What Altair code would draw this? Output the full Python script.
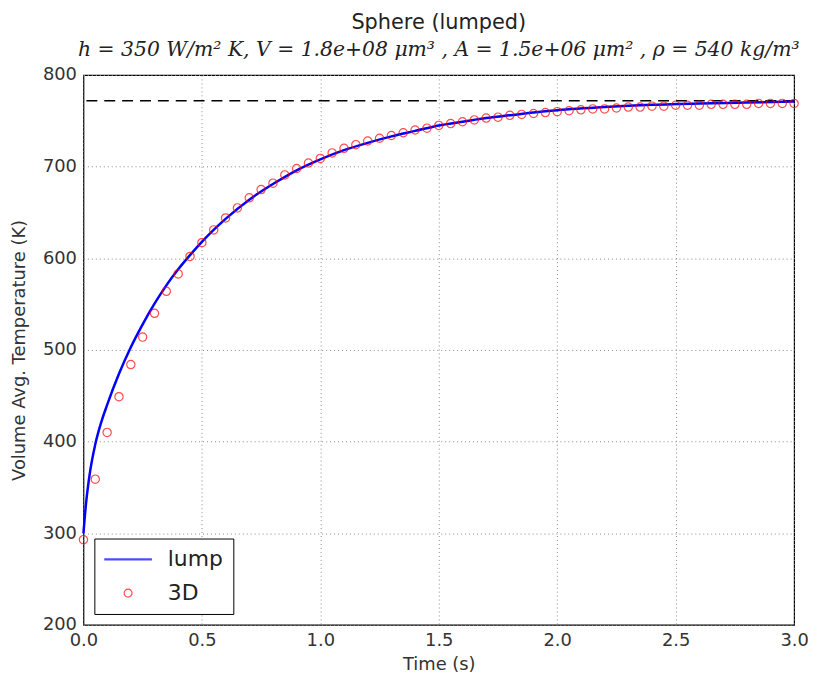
import altair as alt
import pandas as pd

# ---- data ----
series_names = ["lump", "3D"]

lump_time = [0.0, 0.01, 0.025, 0.05, 0.075, 0.1, 0.15, 0.2, 0.25, 0.3, 0.35, 0.4,
             0.45, 0.5, 0.6, 0.7, 0.8, 0.9, 1.0, 1.1, 1.2, 1.3, 1.4, 1.5, 1.6,
             1.7, 1.8, 1.9, 2.0, 2.2, 2.4, 2.6, 2.8, 3.0]
lump_temp = [300, 330, 362, 397, 421, 440, 474, 503, 528, 550.5, 570.5, 588,
             603.5, 618, 643, 664, 681, 696, 708, 718, 726, 733, 739, 745, 749,
             753, 756, 759, 761.5, 765, 767.5, 769, 770, 771]

d3_time = [0.0, 0.05, 0.1, 0.15, 0.2, 0.25, 0.3, 0.35, 0.4, 0.45, 0.5, 0.55,
           0.6, 0.65, 0.7, 0.75, 0.8, 0.85, 0.9, 0.95, 1.0, 1.05, 1.1, 1.15,
           1.2, 1.25, 1.3, 1.35, 1.4, 1.45, 1.5, 1.55, 1.6, 1.65, 1.7, 1.75,
           1.8, 1.85, 1.9, 1.95, 2.0, 2.05, 2.1, 2.15, 2.2, 2.25, 2.3, 2.35,
           2.4, 2.45, 2.5, 2.55, 2.6, 2.65, 2.7, 2.75, 2.8, 2.85, 2.9, 2.95, 3.0]
d3_temp = [293, 359, 410, 449, 484, 514, 540, 564, 583, 602, 617, 631,
           644, 655, 666, 675, 682, 691, 698, 704, 709, 715, 720, 724,
           728, 731, 734, 737, 740, 742, 745, 747, 749, 751, 753, 754,
           756, 757, 758, 759, 760, 761, 762, 763, 763, 764, 765, 765,
           766, 766, 767, 767, 767, 768, 768, 768, 768, 769, 769, 769, 769]

steady_temp = [772]

x_ticks = [0.0, 0.5, 1.0, 1.5, 2.0, 2.5, 3.0]
y_ticks = [200, 300, 400, 500, 600, 700, 800]

title_text = "Sphere (lumped)"
subtitle_text = "h = 350 W/m² K, V = 1.8e+08 μm³ , A = 1.5e+06 μm² , ρ = 540 kg/m³"

# ---- tables ----
lump_df = pd.DataFrame({"time": lump_time, "temp": lump_temp, "series": "lump"})
d3_df = pd.DataFrame({"time": d3_time, "temp": d3_temp, "series": "3D"})
steady_df = pd.DataFrame({"temp": steady_temp})

FONT = "DejaVu Sans"

x_enc = alt.X("time:Q",
              scale=alt.Scale(domain=[0, 3], nice=False),
              axis=alt.Axis(values=x_ticks, format=".1f", title="Time (s)",
                            labelFlush=False))
y_enc = alt.Y("temp:Q",
              scale=alt.Scale(domain=[200, 800], nice=False, zero=False),
              axis=alt.Axis(values=y_ticks, format="d", labelFlush=False,
                            title="Volume Avg. Temperature (K)"))

legend = alt.Legend(title=None, orient="bottom-left", offset=11,
                    fillColor="white", strokeColor="black", padding=10,
                    labelFontSize=22, labelFont=FONT, labelColor="#222",
                    rowPadding=12, symbolSize=64, symbolOffset=13,
                    labelOffset=29, symbolStrokeWidth=1.2, cornerRadius=0)

color_enc = alt.Color("series:N",
                      scale=alt.Scale(domain=series_names,
                                      range=["#0000ff", "#ff0000"]),
                      legend=legend)
shape_enc = alt.Shape("series:N",
                      scale=alt.Scale(domain=series_names,
                                      range=["M-6,-0.15H6M-6,0.15H6", "circle"]),
                      legend=legend)

lump_line = alt.Chart(lump_df).mark_line(strokeWidth=2.5, interpolate="monotone").encode(
    x=x_enc, y=y_enc, color=color_enc)

d3_points = alt.Chart(d3_df).mark_point(filled=False, size=70, strokeWidth=1.2).encode(
    x=x_enc, y=y_enc, color=color_enc, shape=shape_enc)

steady_rule = alt.Chart(steady_df).mark_rule(
    color="black", strokeWidth=1.5, strokeDash=[11, 7]).encode(y=alt.Y("temp:Q"))

chart = alt.layer(steady_rule, lump_line, d3_points).properties(
    width=716, height=554,
    autosize=alt.AutoSizeParams(type="none"),
    padding={"left": 76, "top": 65, "right": 14, "bottom": 50},
    title=alt.TitleParams(
        text=title_text, subtitle=subtitle_text,
        font=FONT, fontSize=21, fontWeight="normal", color="#222",
        subtitleFont="DejaVu Serif", subtitleFontStyle="italic",
        subtitleFontSize=20.5, subtitleColor="#222", subtitlePadding=7,
        anchor="middle", offset=6),
).configure_view(
    stroke="black", strokeWidth=1.2
).configure_axis(
    labelFont=FONT, labelFontSize=18, labelColor="#333",
    titleFont=FONT, titleFontSize=18, titleFontWeight="normal", titleColor="#333",
    grid=True, gridColor="#888", gridDash=[1, 3], gridWidth=1,
    domain=False, ticks=False, labelPadding=7,
).configure_axisX(
    titlePadding=6
).configure_axisY(
    titlePadding=14
)

chart.save("out.html", embed_options={"renderer": "svg", "actions": False})
